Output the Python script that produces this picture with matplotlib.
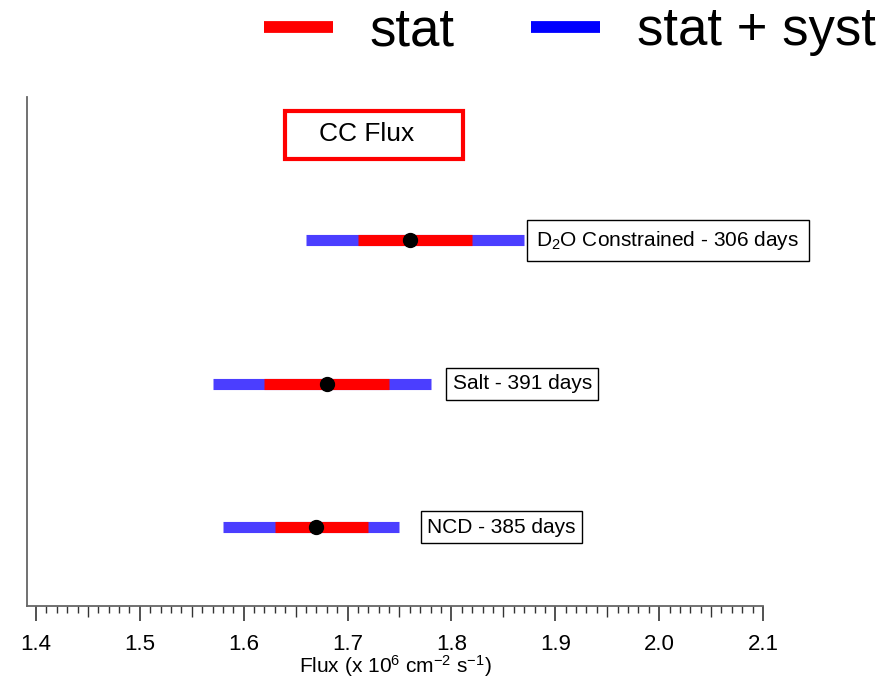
import matplotlib
matplotlib.use('Agg')
import matplotlib.pyplot as plt
from matplotlib.patches import Rectangle

# CC flux measurements (x 10^6 cm^-2 s^-1), bottom to top
labels = ['NCD - 385 days', 'Salt - 391 days', 'D$_2$O Constrained - 306 days']
flux = [1.67, 1.68, 1.76]
stat_lo = [0.04, 0.06, 0.05]
stat_hi = [0.05, 0.06, 0.06]
tot_lo = [0.09, 0.11, 0.10]
tot_hi = [0.08, 0.10, 0.11]
ticks = [1.4, 1.5, 1.6, 1.7, 1.8, 1.9, 2.0, 2.1]

plt.rcParams['mathtext.default'] = 'regular'
plt.rcParams['font.family'] = ['Liberation Sans', 'DejaVu Sans']

W, H = 890, 689
fig = plt.figure(figsize=(W / 100, H / 100), dpi=100)
ax = fig.add_axes([27 / W, (H - 606) / H, (763 - 27) / W, (606 - 97) / H])

blue = '#4b3eff'
red = '#ff0000'
ypos = list(range(len(flux)))
for i, y in enumerate(ypos):
    ax.plot([flux[i] - tot_lo[i], flux[i] + tot_hi[i]], [y, y], color=blue,
            lw=8, solid_capstyle='butt', label='stat + syst' if i == 0 else None)
    ax.plot([flux[i] - stat_lo[i], flux[i] + stat_hi[i]], [y, y], color=red,
            lw=8, solid_capstyle='butt', label='stat' if i == 0 else None)
    ax.plot(flux[i], y, 'o', color='black', ms=10, zorder=5)

# boxed labels right of each bar
gaps = [20, 14, 4]
pads = [0.3, 0.3, 0.45]
for i, y in enumerate(ypos):
    ax.annotate(labels[i], xy=(flux[i] + tot_hi[i], y), xytext=(gaps[i] + 8, 0),
                textcoords='offset pixels', ha='left', va='center', fontsize=15,
                bbox=dict(boxstyle='square,pad=%.2f' % pads[i], fc='white', ec='black', lw=1))

# CC Flux title box
ax.add_patch(Rectangle(((285 - 27) / (763 - 27), (606 - 159) / (606 - 97)),
                       178 / (763 - 27), 48 / (606 - 97), transform=ax.transAxes,
                       fill=False, ec=red, lw=3, clip_on=False))
ax.text((367 - 27) / (763 - 27), (606 - 134) / (606 - 97), 'CC Flux',
        transform=ax.transAxes, ha='center', va='center', fontsize=19)

ax.set_xlim(1.4 - 9 / 1038.6, 2.1)
ax.set_ylim(-0.55, 3.0)
ax.set_xticks(ticks)
ax.set_xticklabels(['%.1f' % t for t in ticks], fontsize=16)
ax.set_xticks([1.4 + 0.01 * k for k in range(71) if k % 5], minor=True)
ax.tick_params(axis='x', which='major', length=11, width=1.2, color='#333333', pad=9)
ax.tick_params(axis='x', which='minor', length=5, width=1.0, color='#333333')
ax.set_yticks([])

# medium ticks at the half-way marks
sec = ax.secondary_xaxis('bottom')
sec.set_xticks([1.45 + 0.1 * k for k in range(7)])
sec.tick_params(length=8, width=1.0, color='#333333', labelbottom=False)
sec.spines['bottom'].set_visible(False)

for s in ['top', 'right']:
    ax.spines[s].set_visible(False)
for s in ['left', 'bottom']:
    ax.spines[s].set_color('#666666')
    ax.spines[s].set_linewidth(1.3)

ax.set_xlabel('Flux (x 10$^6$ cm$^{-2}$ s$^{-1}$)', fontsize=15, labelpad=-1)

handles, lbls = ax.get_legend_handles_labels()
leg = fig.legend(handles[::-1], lbls[::-1], loc='upper right', bbox_to_anchor=(1.037, 1.06),
                 ncol=2, frameon=False, fontsize=38, handlelength=1.3,
                 handletextpad=0.7, columnspacing=1.45)
leg.legend_handles[0].set_color(red)
leg.legend_handles[1].set_color('#0000ff')
for h in leg.legend_handles:
    h.set_linewidth(8.5)

fig.savefig('out.png', dpi=100)
